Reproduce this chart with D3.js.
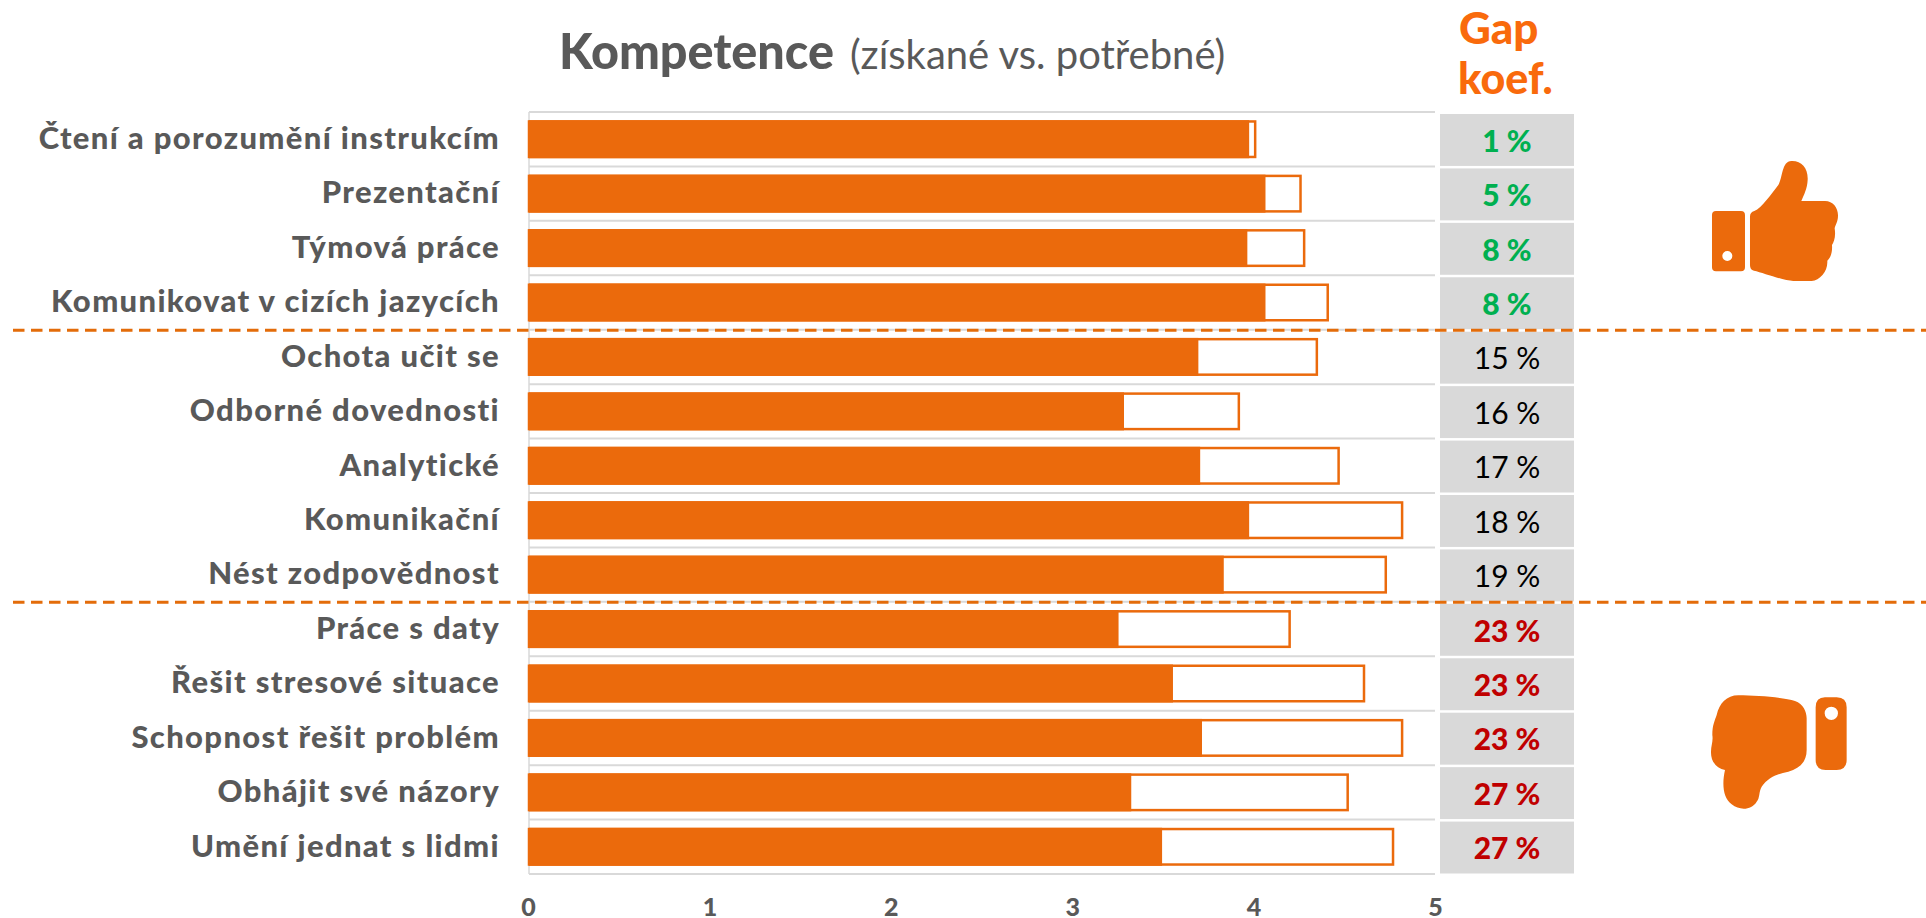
<!DOCTYPE html>
<html><head><meta charset="utf-8">
<script src="https://cdn.jsdelivr.net/npm/d3@7"></script>
<style>html,body{margin:0;padding:0;background:#fff}svg{display:block}text{font-family:Lato,sans-serif}</style>
</head><body><svg id="c" width="1926" height="918"></svg>
<script>
const categories=["Čtení a porozumění instrukcím","Prezentační","Týmová práce","Komunikovat v cizích jazycích","Ochota učit se","Odborné dovednosti","Analytické","Komunikační","Nést zodpovědnost","Práce s daty","Řešit stresové situace","Schopnost řešit problém","Obhájit své názory","Umění jednat s lidmi"];
const acquired=[3.97,4.06,3.96,4.06,3.69,3.28,3.70,3.97,3.83,3.25,3.55,3.71,3.32,3.49];
const required=[4.01,4.26,4.28,4.41,4.35,3.92,4.47,4.82,4.73,4.20,4.61,4.82,4.52,4.77];
const gapValues=[1,5,8,8,15,16,17,18,19,23,23,23,27,27];
const tickValues=[0,1,2,3,4,5];
const dividerAfter=[4,9];
const orange="#EB6A0C",grey="#595959",gridC="#D9D9D9";
const svg=d3.select("#c");
const x=d3.scaleLinear().domain([0,5]).range([529,1436]);
const y=d3.scaleBand().domain(categories).range([112,874]).paddingInner(0).paddingOuter(0);
const bh=38,off=(y.bandwidth()-bh)/2;
// gridlines
svg.append("g").selectAll("line").data(d3.range(categories.length+1)).join("line")
 .attr("x1",x(0)).attr("x2",1435).attr("y1",i=>112+i*y.step()).attr("y2",i=>112+i*y.step())
 .attr("stroke",gridC).attr("stroke-width",2);
svg.append("line").attr("x1",x(0)).attr("x2",x(0)).attr("y1",112).attr("y2",874).attr("stroke",gridC).attr("stroke-width",1.5);
// required outline
svg.append("g").selectAll("rect").data(categories).join("rect")
 .attr("x",x(0)).attr("y",d=>y(d)+off+1.25).attr("height",bh-2.5)
 .attr("width",(d,i)=>x(required[i])-x(0)-1.25)
 .attr("fill","#fff").attr("stroke",orange).attr("stroke-width",2.5);
// acquired
svg.append("g").selectAll("rect").data(categories).join("rect")
 .attr("x",x(0)).attr("y",d=>y(d)+off).attr("height",bh)
 .attr("width",(d,i)=>x(acquired[i])-x(0)).attr("fill",orange);
// category labels
svg.append("g").selectAll("text").data(categories).join("text")
 .attr("x",500).attr("y",d=>y(d)+y.bandwidth()/2-1).attr("dy","0.35em").attr("text-anchor","end")
 .attr("font-size",31).attr("font-weight",900).attr("letter-spacing",1.35).attr("fill",grey).text(d=>d);
// gap boxes
const gc=i=>gapValues[i]<10?"#00B050":gapValues[i]<20?"#000":"#C00000";
svg.append("g").selectAll("rect").data(categories).join("rect")
 .attr("x",1440).attr("width",134).attr("y",d=>y(d)+2).attr("height",y.step()-2.5).attr("fill","#D9D9D9");
svg.append("g").selectAll("text").data(categories).join("text")
 .attr("x",1507).attr("y",d=>y(d)+y.bandwidth()/2+2).attr("dy","0.35em").attr("text-anchor","middle")
 .attr("font-size",30).attr("font-weight",(d,i)=>gapValues[i]>=10&&gapValues[i]<20?400:900)
 .attr("fill",(d,i)=>gc(i)).text((d,i)=>gapValues[i]+" %");
// axis
const ax=svg.append("g").attr("transform","translate(-1,874)").call(d3.axisBottom(x).tickValues(tickValues).tickSize(0).tickPadding(24).tickFormat(d3.format("d")));
ax.select(".domain").remove();
ax.selectAll("text").attr("font-size",25).attr("font-weight",900).attr("fill",grey).style("font-family","Lato");
// dividers
svg.append("g").selectAll("line").data(dividerAfter).join("line")
 .attr("x1",13).attr("x2",1926).attr("y1",d=>112+d*y.step()+0.5).attr("y2",d=>112+d*y.step()+0.5)
 .attr("stroke","#E36C0A").attr("stroke-width",3).attr("stroke-dasharray","11.5 6.5");
// title
const t=svg.append("text").attr("x",559).attr("y",69).attr("fill",grey);
t.append("tspan").attr("font-size",48.5).attr("font-weight",900).text("Kompetence");
t.append("tspan").attr("font-size",40).attr("dx",16).text("(získané vs. potřebné)");
svg.append("text").attr("x",1459).attr("y",44).attr("font-size",44).attr("font-weight",900).attr("fill","#F96A0C").text("Gap");
svg.append("text").attr("x",1458).attr("y",94).attr("font-size",43).attr("font-weight",900).attr("fill","#F96A0C").text("koef.");
// thumb icons
const up=svg.append("g").attr("transform","translate(1660,130) scale(0.3333)").attr("fill",orange);
up.append("path").attr("fill-rule","evenodd").attr("d","M168 243H243Q255 243 255 255V412Q255 424 243 424H168Q156 424 156 412V255Q156 243 168 243ZM202 363A15 15 0 1 0 202 393A15 15 0 1 0 202 363Z");
up.append("path").attr("d","M270 260Q270 246 283 243C305 235 335 190 355 165C368 145 365 92 395 93C425 92 445 115 443 150C442 175 432 195 424 213H495C520 213 535 235 534 258C534 275 526 285 524 295C528 320 522 335 516 345C518 370 510 385 502 392C504 425 480 450 455 453H400C370 452 310 428 282 422Q270 420 270 405Z");
const dn=svg.append("g").attr("transform","translate(1660,670) scale(0.3333)").attr("fill",orange);
dn.append("path").attr("fill-rule","evenodd").attr("d","M495 82H530Q560 82 560 112V270Q560 300 530 300H497Q467 300 467 270V112Q467 82 495 82ZM514 110A20 20 0 1 0 514 150A20 20 0 1 0 514 110Z");
dn.append("path").attr("d","M235 76C290 76 370 82 405 93C430 102 440 125 440 145V240C440 275 420 295 385 305C350 312 325 322 305 350C296 365 300 385 290 395C275 420 240 423 215 403C190 385 185 345 195 300C170 295 152 275 153 245C153 225 160 215 157 195C157 165 165 150 170 135C178 100 200 76 235 76Z");
</script></body></html>
